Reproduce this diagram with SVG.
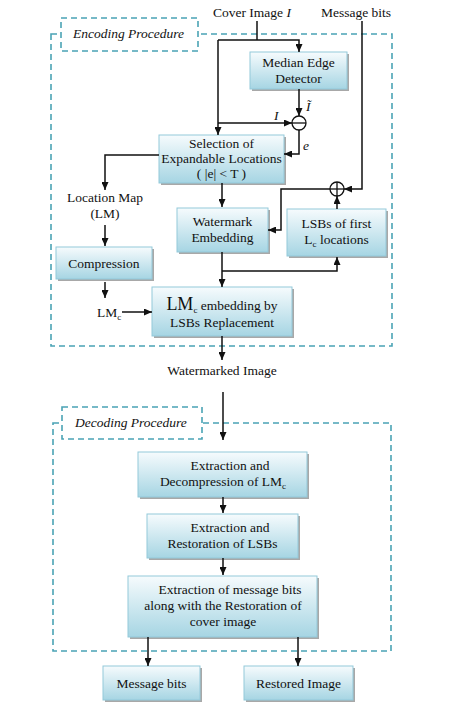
<svg xmlns="http://www.w3.org/2000/svg" width="461" height="716" viewBox="0 0 461 716">
<style>
text{font-family:"Liberation Serif","Times New Roman",serif;font-size:13.5px;fill:#111}
.c{text-anchor:middle}
.i{font-style:italic}
.box{fill:url(#g);stroke:#93c9da;stroke-width:1}
.sh{fill:#a8a8a8}
.dash{fill:none;stroke:#4aa3b5;stroke-width:1.6;stroke-dasharray:6 4}
.lbl{fill:#fff;stroke:#4aa3b5;stroke-width:1.6;stroke-dasharray:6 4}
.ln{fill:none;stroke:#111;stroke-width:1.5}
.ar{fill:none;stroke:#111;stroke-width:1.5;marker-end:url(#a)}
</style>
<defs>
<linearGradient id="g" x1="0" y1="0" x2="0" y2="1">
<stop offset="0" stop-color="#f6fbfd"/>
<stop offset="1" stop-color="#a6d5e3"/>
</linearGradient>
<marker id="a" viewBox="0 0 10 10" refX="10" refY="5" markerWidth="8" markerHeight="7" markerUnits="userSpaceOnUse" orient="auto" preserveAspectRatio="none">
<path d="M0,0 L10,5 L0,10 z" fill="#111"/>
</marker>
</defs>
<rect width="461" height="716" fill="#fff"/>

<g id="encoding-frame">
<rect class="dash" x="51" y="34" width="341" height="312"/>
<rect class="lbl" x="61" y="18" width="137" height="33"/>
<text class="i" x="73" y="38">Encoding Procedure</text>
</g>

<g id="decoding-frame">
<rect class="dash" x="53" y="423" width="338" height="228"/>
<rect class="lbl" x="62" y="407" width="140" height="32"/>
<text class="i" x="75" y="427">Decoding Procedure</text>
</g>

<g id="cover-image"><text x="213" y="17">Cover Image <tspan class="i">I</tspan></text></g>
<g id="message-bits-in"><text x="321" y="17">Message bits</text></g>

<g id="median">
<rect class="sh" x="252" y="54" width="97" height="37"/>
<rect class="box" x="250" y="52" width="97" height="37"/>
<text class="c" x="298.5" y="67">Median Edge</text>
<text class="c" x="298.5" y="83">Detector</text>
</g>

<g id="minus">
<circle cx="299" cy="123" r="7" fill="#fff" stroke="#111" stroke-width="1.3"/>
<line x1="292" y1="123" x2="306" y2="123" stroke="#111" stroke-width="1.3"/>
</g>

<g id="selection">
<rect class="sh" x="161" y="137" width="125" height="48"/>
<rect class="box" x="159" y="135" width="125" height="48"/>
<text class="c" x="221.5" y="148">Selection of</text>
<text class="c" x="221.5" y="163">Expandable Locations</text>
<text class="c" x="221.5" y="178">( |e| &lt; T )</text>
</g>

<g id="location-map">
<text class="c" x="105" y="202">Location Map</text>
<text class="c" x="105" y="218">(LM)</text>
</g>

<g id="compression">
<rect class="sh" x="58" y="249" width="96" height="32"/>
<rect class="box" x="56" y="247" width="96" height="32"/>
<text class="c" x="104" y="268">Compression</text>
</g>

<g id="lmc"><text x="97" y="317">LM<tspan font-size="9" dy="3">c</tspan></text></g>

<g id="watermark">
<rect class="sh" x="179" y="210" width="91" height="44"/>
<rect class="box" x="177" y="208" width="91" height="44"/>
<text class="c" x="222.5" y="226">Watermark</text>
<text class="c" x="222.5" y="242">Embedding</text>
</g>

<g id="lsbs">
<rect class="sh" x="289" y="211" width="99" height="47"/>
<rect class="box" x="287" y="209" width="99" height="47"/>
<text class="c" x="336.5" y="228">LSBs of first</text>
<text class="c" x="336.5" y="244">L<tspan font-size="9" dy="3">c</tspan><tspan dy="-3"> locations</tspan></text>
</g>

<g id="xor">
<circle cx="337" cy="189" r="7" fill="#fff" stroke="#111" stroke-width="1.3"/>
<line x1="330" y1="189" x2="344" y2="189" stroke="#111" stroke-width="1.3"/>
<line x1="337" y1="182" x2="337" y2="196" stroke="#111" stroke-width="1.3"/>
</g>

<g id="lmc-embedding">
<rect class="sh" x="154" y="289" width="140" height="49"/>
<rect class="box" x="152" y="287" width="140" height="49"/>
<text class="c" x="222" y="310"><tspan font-size="18">LM</tspan><tspan font-size="9" dy="3">c</tspan><tspan dy="-3"> embedding by</tspan></text>
<text class="c" x="222" y="327">LSBs Replacement</text>
</g>

<g id="watermarked-image"><text class="c" x="222" y="375">Watermarked Image</text></g>

<g id="extract-decompress">
<rect class="sh" x="140" y="454" width="169" height="45"/>
<rect class="box" x="138" y="452" width="169" height="45"/>
<text class="c" x="230" y="470">Extraction and</text>
<text class="c" x="223" y="486">Decompression of LM<tspan font-size="9" dy="3">c</tspan></text>
</g>

<g id="extract-restore">
<rect class="sh" x="149" y="516" width="151" height="44"/>
<rect class="box" x="147" y="514" width="151" height="44"/>
<text class="c" x="230" y="532">Extraction and</text>
<text class="c" x="222.5" y="548">Restoration of LSBs</text>
</g>

<g id="extract-message">
<rect class="sh" x="130" y="578" width="189" height="61"/>
<rect class="box" x="128" y="576" width="189" height="61"/>
<text class="c" x="230" y="594">Extraction of message bits</text>
<text class="c" x="223" y="610">along with the Restoration of</text>
<text class="c" x="223" y="626">cover image</text>
</g>

<g id="message-bits-out">
<rect class="sh" x="105" y="668" width="97" height="34"/>
<rect class="box" x="103" y="666" width="97" height="34"/>
<text class="c" x="151.5" y="688">Message bits</text>
</g>

<g id="restored-image">
<rect class="sh" x="246" y="668" width="109" height="34"/>
<rect class="box" x="244" y="666" width="109" height="34"/>
<text class="c" x="298.5" y="688">Restored Image</text>
</g>

<g id="connectors">
<polyline class="ln" points="257,21 257,40"/>
<polyline class="ar" points="218,40 299,40 299,52"/>
<polyline class="ar" points="218,40 218,135"/>
<polyline class="ar" points="218,123 292,123"/>
<polyline class="ar" points="299,89 299,116"/>
<polyline class="ar" points="299,130 299,154 284,154"/>
<polyline class="ar" points="159,155 105,155 105,190"/>
<polyline class="ar" points="105,225 105,246"/>
<polyline class="ar" points="105,282 105,298"/>
<polyline class="ar" points="122,312 152,312"/>
<polyline class="ar" points="222,183 222,207"/>
<polyline class="ar" points="222,252 222,287"/>
<polyline class="ar" points="222,271 337,271 337,257"/>
<polyline class="ar" points="337,209 337,196"/>
<polyline class="ar" points="362,21 362,189 344,189"/>
<polyline class="ar" points="330,189 281,189 281,230 268,230"/>
<polyline class="ar" points="222,336 222,360"/>
<polyline class="ar" points="223,392 223,440"/>
<polyline class="ar" points="223,497 223,513"/>
<polyline class="ar" points="223,558 223,575"/>
<polyline class="ar" points="148,637 148,666"/>
<polyline class="ar" points="298,637 298,666"/>
</g>

<g id="labels">
<text class="i" x="306" y="111">Ĩ</text>
<text class="i" x="274" y="120">I</text>
<text class="i" x="303" y="150">e</text>
</g>
</svg>
